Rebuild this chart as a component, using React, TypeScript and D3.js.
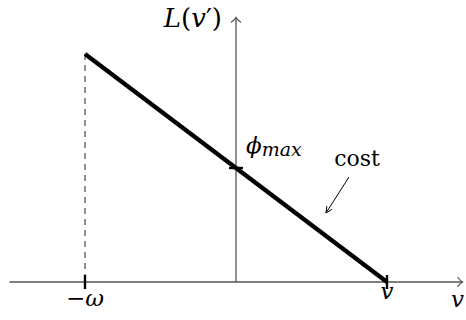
import React, { useEffect, useRef } from 'react'
import { select, scaleLinear, line } from 'd3'

// cost line L(v') going from -omega to v
const costX = [-1, 1]
const costY = [2, 0]

// ticks on the axes
const xTickValues = [-1, 1]
const xTickLabels = ['ω', 'v']
const yTickValues = [1]

const xExtent = [-1.5, 1.5]
const yTop = 2.32

const width = 466
const height = 320

function App() {
    const ref = useRef<SVGSVGElement>(null)

    useEffect(() => {
        const svg = select(ref.current)
        svg.selectAll('*').remove()

        const x = scaleLinear().domain([-1, 1]).range([85, 387])
        const y = scaleLinear().domain([0, 2]).range([282, 54])

        const font = "'DejaVu Serif', serif"
        const axisColor = '#555'

        // axes
        svg.append('line')
            .attr('x1', x(xExtent[0])).attr('x2', x(xExtent[1]))
            .attr('y1', y(0)).attr('y2', y(0))
            .attr('stroke', axisColor).attr('stroke-width', 1.3)
        svg.append('line')
            .attr('x1', x(0)).attr('x2', x(0))
            .attr('y1', y(0)).attr('y2', y(yTop))
            .attr('stroke', axisColor).attr('stroke-width', 1.3)

        // arrow heads
        const xe = x(xExtent[1]), ye = y(yTop)
        svg.append('path')
            .attr('d', `M${xe - 5},${y(0) - 5} Q${xe - 2},${y(0) - 1} ${xe},${y(0)} Q${xe - 2},${y(0) + 1} ${xe - 5},${y(0) + 5}`)
            .attr('fill', 'none').attr('stroke', axisColor).attr('stroke-width', 1.2)
        svg.append('path')
            .attr('d', `M${x(0) - 5},${ye + 5} Q${x(0) - 1},${ye + 2} ${x(0)},${ye} Q${x(0) + 1},${ye + 2} ${x(0) + 5},${ye + 5}`)
            .attr('fill', 'none').attr('stroke', axisColor).attr('stroke-width', 1.2)

        // dashed drop line at -omega
        svg.append('line')
            .attr('x1', x(costX[0])).attr('x2', x(costX[0]))
            .attr('y1', y(costY[0])).attr('y2', y(0))
            .attr('stroke', '#555').attr('stroke-width', 1.3)
            .attr('stroke-dasharray', '6,5')

        // the cost line
        const pts = costX.map((d, i) => [d, costY[i]] as [number, number])
        svg.append('path')
            .attr('d', line<[number, number]>().x(d => x(d[0])).y(d => y(d[1]))(pts))
            .attr('fill', 'none').attr('stroke', '#000').attr('stroke-width', 4.3)
            .attr('stroke-linecap', 'butt')

        // ticks
        svg.selectAll('.xtick').data(xTickValues).join('line')
            .attr('class', 'xtick')
            .attr('x1', d => x(d)).attr('x2', d => x(d))
            .attr('y1', y(0) - 7).attr('y2', y(0) + 7)
            .attr('stroke', '#000').attr('stroke-width', 2.4)
        svg.selectAll('.ytick').data(yTickValues).join('line')
            .attr('class', 'ytick')
            .attr('x1', x(0) - 7).attr('x2', x(0) + 7)
            .attr('y1', d => y(d)).attr('y2', d => y(d))
            .attr('stroke', '#000').attr('stroke-width', 2.4)

        const txt = (sel: any, size: number) =>
            sel.style('font-family', font).style('font-size', size + 'px').attr('fill', '#000')

        // tick labels
        const xl = svg.selectAll('.xlabel').data(xTickValues).join('text')
            .attr('class', 'xlabel')
            .attr('x', d => x(d)).attr('y', d => y(0) + (d < 0 ? 24 : 17))
            .attr('text-anchor', 'middle')
        txt(xl, 23)
        xl.each(function (d, i) {
            const t = select(this)
            if (d < 0) t.append('tspan').text('−')
            t.append('tspan').style('font-style', 'italic').text(xTickLabels[i])
        })

        const yl = svg.append('text')
            .attr('x', x(0) + 10).attr('y', y(yTickValues[0]) - 15)
        txt(yl, 23)
        yl.append('tspan').style('font-style', 'italic').text('ϕ')
        yl.append('tspan').style('font-style', 'italic').style('font-size', '19px')
            .attr('dy', 3).text('max')

        // axis titles
        const vt = svg.append('text')
            .attr('x', x(xExtent[1]) - 5).attr('y', 307)
            .attr('text-anchor', 'middle')
            .style('font-style', 'italic')
            .text('v')
        txt(vt, 23)

        const lt = svg.append('text')
            .attr('x', x(0) - 14).attr('y', 27)
            .attr('text-anchor', 'end')
        txt(lt, 26)
        lt.append('tspan').style('font-style', 'italic').text('L')
        lt.append('tspan').text('(')
        lt.append('tspan').style('font-style', 'italic').text('v')
        lt.append('tspan').text('′)')

        // cost annotation
        const ct = svg.append('text')
            .attr('x', 357).attr('y', 166)
            .attr('text-anchor', 'middle')
            .text('cost')
        txt(ct, 22)
        const ax1 = 349, ay1 = 177, ax2 = 326, ay2 = 213
        svg.append('line')
            .attr('x1', ax1).attr('y1', ay1).attr('x2', ax2).attr('y2', ay2)
            .attr('stroke', '#000').attr('stroke-width', 1)
        const ang = Math.atan2(ay2 - ay1, ax2 - ax1)
        const hl = 7
        const p1 = [ax2 - hl * Math.cos(ang - 0.45), ay2 - hl * Math.sin(ang - 0.45)]
        const p2 = [ax2 - hl * Math.cos(ang + 0.45), ay2 - hl * Math.sin(ang + 0.45)]
        svg.append('path')
            .attr('d', `M${p1[0]},${p1[1]} L${ax2},${ay2} L${p2[0]},${p2[1]}`)
            .attr('fill', 'none').attr('stroke', '#000').attr('stroke-width', 1)
    }, [])

    return (
        <svg ref={ref} width={width} height={height}
            style={{ position: 'absolute', left: 0, top: 0, display: 'block', background: '#fff' }} />
    )
}

export default App
